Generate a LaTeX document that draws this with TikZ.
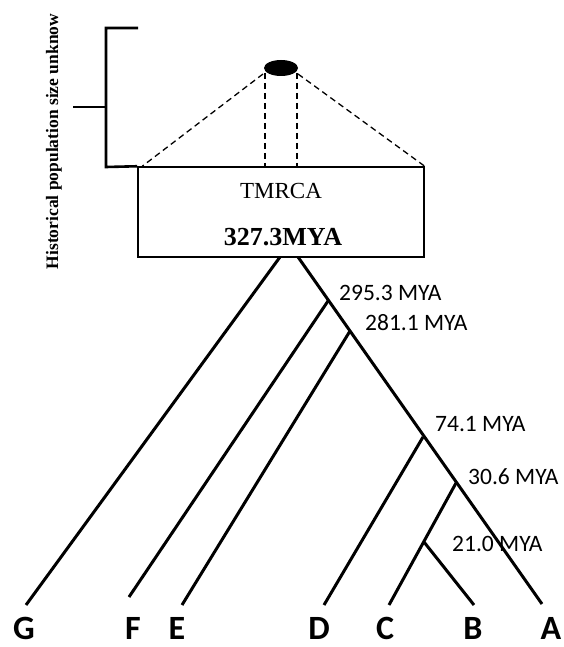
\documentclass[tikz,border=0pt]{standalone}
\usepackage{fontspec}
\setmainfont{Liberation Serif}
\newfontfamily\calfont{Carlito}
\usetikzlibrary{shapes.geometric}
\begin{document}
\begin{tikzpicture}[x=1pt,y=-1pt,
  branch/.style={line width=3pt},
  bracket/.style={line width=2.6pt},
  dashline/.style={line width=1.3pt, dash pattern=on 6pt off 4pt},
  mya/.style={font=\calfont\fontsize{23.5}{23.5}\selectfont, anchor=base west, inner sep=0},
  leaf/.style={font=\calfont\bfseries\fontsize{34}{34}\selectfont, anchor=base, inner sep=0}]
\useasboundingbox (0,0) rectangle (564,647);

% side label and bracket
\node[rotate=90, anchor=base, inner sep=0, font=\bfseries\fontsize{17.5}{17.5}\selectfont] (hist) at (58,141.5) {Historical population size unknow};

% box
\node[draw, line width=1.5pt, rectangle, minimum width=286pt, minimum height=90pt, inner sep=0] (box) at (281,212) {};
\node[anchor=base, inner sep=0, font=\fontsize{23}{23}\selectfont] (tmrca) at (281,198) {TMRCA};
\node[anchor=base, inner sep=0, font=\bfseries\fontsize{26}{26}\selectfont] (age) at (283,245) {327.3MYA};

\coordinate (bt) at (138,28);
\coordinate (bc1) at (106,28);
\coordinate (bc2) at (106,167);
\coordinate (bm) at (106,107);
\coordinate (bmt) at (73,107);
\draw[bracket] (bt) -- (bc1) -- (bc2) -- (box.north west);
\draw[bracket] (bmt) -- (bm);

% ellipse and dashed lines
\node[ellipse, fill=black, minimum width=34pt, minimum height=16pt, inner sep=0] (pop) at (281,68) {};
\coordinate (dl) at (263,74);
\coordinate (dr) at (298,74);
\coordinate (vl) at (265,73);
\coordinate (vr) at (297,73);
\coordinate (vlb) at (265,167);
\coordinate (vrb) at (297,167);
\draw[dashline] (dl) -- ([xshift=5pt]box.north west);
\draw[dashline] (dr) -- (box.north east);
\draw[dashline] (vl) -- (vlb);
\draw[dashline] (vr) -- (vrb);

% tree
\coordinate (gtop) at (280,257);
\coordinate (atop) at (298,257);
\coordinate (n1) at (328,301);
\coordinate (n2) at (350,331);
\coordinate (n3) at (423,437);
\coordinate (n4) at (456,483);
\coordinate (n5) at (424,542);
\coordinate (ge) at (26,605);
\coordinate (fe) at (129,597);
\coordinate (ee) at (182,605);
\coordinate (de) at (324,605);
\coordinate (ce) at (389,605);
\coordinate (be) at (474,605);
\coordinate (ae) at (542,604);
\draw[branch] (gtop) -- (ge);
\draw[branch] (atop) -- (ae);
\draw[branch] (n1) -- (fe);
\draw[branch] (n2) -- (ee);
\draw[branch] (n3) -- (de);
\draw[branch] (n4) -- (ce);
\draw[branch] (n5) -- (be);

% node ages
\node[mya] (l1) at (339,300) {295.3 MYA};
\node[mya] (l2) at (365,330) {281.1 MYA};
\node[mya] (l3) at (435,431) {74.1 MYA};
\node[mya] (l4) at (468,484) {30.6 MYA};
\node[mya] (l5) at (452,551) {21.0 MYA};

% leaves
\node[leaf] (G) at (24,639) {G};
\node[leaf] (F) at (133,639) {F};
\node[leaf] (E) at (177,639) {E};
\node[leaf] (D) at (319,639) {D};
\node[leaf] (C) at (385,639) {C};
\node[leaf] (B) at (473,639) {B};
\node[leaf] (A) at (551,639) {A};
\end{tikzpicture}
\end{document}
